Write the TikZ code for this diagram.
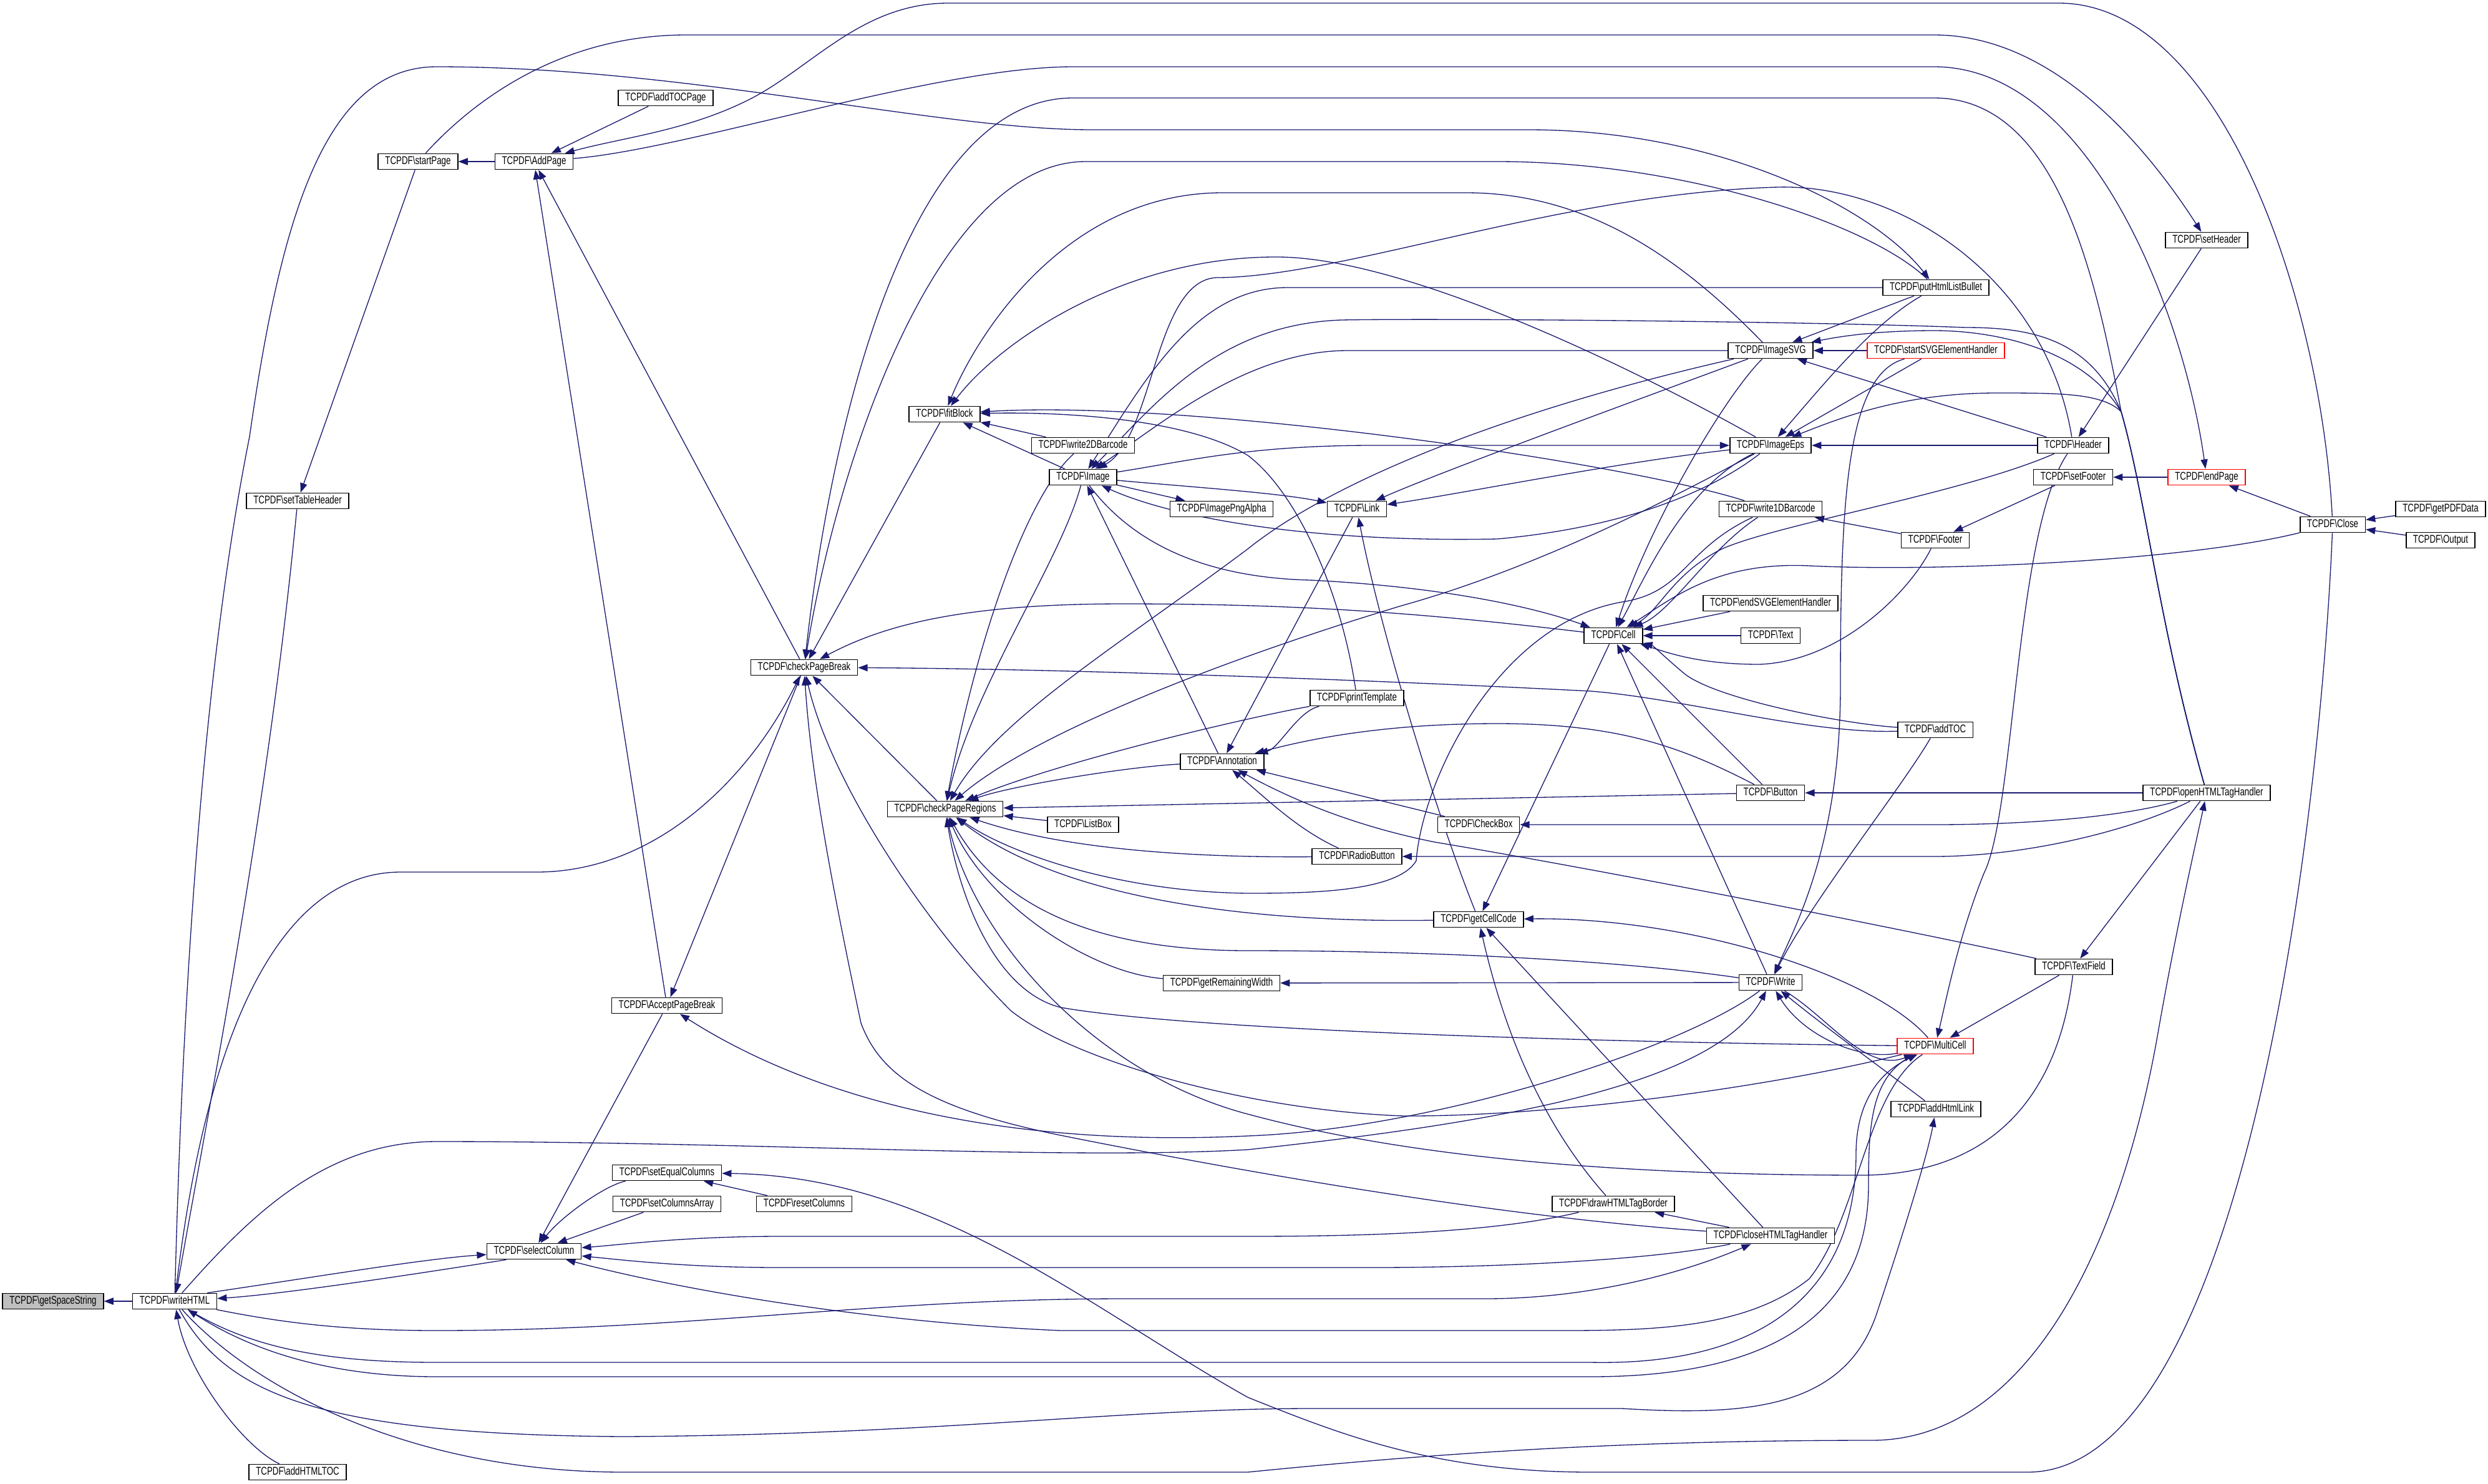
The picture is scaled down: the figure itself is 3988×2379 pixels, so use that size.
\documentclass[tikz,border=0pt]{standalone}
\usepackage{fontspec}
\usetikzlibrary{arrows.meta}
\newfontfamily\doxfont[FakeStretch=0.74]{Liberation Sans}
\newcommand{\fnfont}{\doxfont\fontsize{4.5pt}{5pt}\selectfont}
\newcommand{\tcpdf}[1]{TCPDF\textbackslash #1}
\definecolor{edgeblue}{HTML}{191970}
\definecolor{nodegray}{HTML}{BFBFBF}
\pgfdeclarelayer{edges}
\pgfsetlayers{edges,main}
\begin{document}
\begin{tikzpicture}[x=0.25pt,y=-0.25pt,
  fn/.style={draw=black,line width=0.4pt,fill=white,inner xsep=2.8pt,inner ysep=0pt,minimum height=6.3pt,text height=3.3pt,text depth=0.9pt,font=\fnfont},
  fnred/.style={fn,draw=red},
  fncur/.style={fn,fill=nodegray},
  call/.style={draw=edgeblue,line width=0.33pt,-{Triangle[length=3.8pt,width=2.8pt]}}]
\useasboundingbox (0,0) rectangle (3988,2379);

\node[fncur] (gss) at (85,2086) {\tcpdf{getSpaceString}};
\node[fn] (whtml) at (280,2086) {\tcpdf{writeHTML}};
\node[fn] (htmltoc) at (477,2360) {\tcpdf{addHTMLTOC}};
\node[fn] (selcol) at (856,2006) {\tcpdf{selectColumn}};
\node[fn] (tblhdr) at (477,803) {\tcpdf{setTableHeader}};
\node[fn] (startpg) at (670,259) {\tcpdf{startPage}};
\node[fn] (addpg) at (856,259) {\tcpdf{AddPage}};
\node[fn] (tocpg) at (1067,157) {\tcpdf{addTOCPage}};
\node[fn] (acptbrk) at (1069,1612) {\tcpdf{AcceptPageBreak}};
\node[fn] (eqcols) at (1069,1880) {\tcpdf{setEqualColumns}};
\node[fn] (colsarr) at (1069,1930) {\tcpdf{setColumnsArray}};
\node[fn] (rstcols) at (1289,1930) {\tcpdf{resetColumns}};
\node[fn] (chkbrk) at (1289,1070) {\tcpdf{checkPageBreak}};
\node[fn] (chkreg) at (1515,1297) {\tcpdf{checkPageRegions}};
\node[fn] (fitblk) at (1514,664) {\tcpdf{fitBlock}};
\node[fn] (wr2d) at (1736,714) {\tcpdf{write2DBarcode}};
\node[fn] (image) at (1736,765) {\tcpdf{Image}};
\node[fn] (listbox) at (1736,1322) {\tcpdf{ListBox}};
\node[fn] (pngalpha) at (1958,816) {\tcpdf{ImagePngAlpha}};
\node[fn] (annot) at (1959,1221) {\tcpdf{Annotation}};
\node[fn] (remwidth) at (1958,1576) {\tcpdf{getRemainingWidth}};
\node[fn] (link) at (2175,816) {\tcpdf{Link}};
\node[fn] (printtpl) at (2175,1119) {\tcpdf{printTemplate}};
\node[fn] (radio) at (2175,1373) {\tcpdf{RadioButton}};
\node[fn] (checkbox) at (2370,1322) {\tcpdf{CheckBox}};
\node[fn] (cellcode) at (2370,1474) {\tcpdf{getCellCode}};
\node[fn] (cell) at (2586,1019) {\tcpdf{Cell}};
\node[fn] (tagborder) at (2586,1930) {\tcpdf{drawHTMLTagBorder}};
\node[fn] (svg) at (2838,562) {\tcpdf{ImageSVG}};
\node[fn] (eps) at (2838,714) {\tcpdf{ImageEps}};
\node[fn] (wr1d) at (2838,816) {\tcpdf{write1DBarcode}};
\node[fn] (endsvg) at (2838,967) {\tcpdf{endSVGElementHandler}};
\node[fn] (txt) at (2838,1019) {\tcpdf{Text}};
\node[fn] (button) at (2838,1271) {\tcpdf{Button}};
\node[fn] (write) at (2838,1575) {\tcpdf{Write}};
\node[fn] (closetag) at (2838,1981) {\tcpdf{closeHTMLTagHandler}};
\node[fn] (bullet) at (3103,461) {\tcpdf{putHtmlListBullet}};
\node[fnred] (startsvg) at (3103,562) {\tcpdf{startSVGElementHandler}};
\node[fn] (footer) at (3102,866) {\tcpdf{Footer}};
\node[fn] (addtoc) at (3102,1170) {\tcpdf{addTOC}};
\node[fnred] (multicell) at (3102,1677) {\tcpdf{MultiCell}};
\node[fn] (htmllink) at (3103,1778) {\tcpdf{addHtmlLink}};
\node[fn] (header) at (3323,714) {\tcpdf{Header}};
\node[fn] (setfooter) at (3323,765) {\tcpdf{setFooter}};
\node[fn] (textfield) at (3324,1550) {\tcpdf{TextField}};
\node[fn] (setheader) at (3537,385) {\tcpdf{setHeader}};
\node[fnred] (endpage) at (3537,765) {\tcpdf{endPage}};
\node[fn] (opentag) at (3537,1271) {\tcpdf{openHTMLTagHandler}};
\node[fn] (close) at (3739,841) {\tcpdf{Close}};
\node[fn] (pdfdata) at (3912,816) {\tcpdf{getPDFData}};
\node[fn] (output) at (3912,866) {\tcpdf{Output}};

\begin{pgfonlayer}{edges}
\fill[white] (0,0) rectangle (3988,2379);
% left part
\draw[call] (whtml) -- (gss);
\draw[call] (htmltoc) .. controls (390,2320) and (300,2200) .. (whtml);
\draw[call] ([xshift=-4pt]whtml.north east) .. controls (520,2045) and (680,2018) .. (selcol);
\draw[call] ([xshift=8pt]selcol.south west) .. controls (650,2045) and (450,2075) .. (whtml);
\draw[call] (tblhdr) .. controls (430,1300) and (330,1800) .. (whtml);
\draw[call] (startpg) -- (tblhdr);
\draw[call] (addpg) -- (startpg);
\draw[call] (tocpg) -- (addpg);
\draw[call] (acptbrk) -- (addpg);
\draw[call] (chkbrk) -- (addpg);
\draw[call] (chkbrk) -- (acptbrk);
\draw[call] (fitblk) -- (chkbrk);
\draw[call] (chkreg) -- (chkbrk);
% along the top
\draw[call] (close) .. controls (3720,480) and (3560,5) .. (3300,5) -- (1520,5) .. controls (1380,5) and (1300,110) .. (1200,160) .. controls (1100,210) and (1000,220) .. (addpg);
\draw[call] (startpg) .. controls (760,160) and (900,56) .. (1100,56) -- (3100,56) .. controls (3300,56) and (3450,250) .. (setheader);
\draw[call] (addpg) .. controls (1100,240) and (1500,107) .. (1720,107) -- (3100,107) .. controls (3350,107) and (3500,500) .. (endpage);
\draw[call] (whtml) .. controls (300,1300) and (360,900) .. (400,700) .. controls (450,350) and (520,107) .. (700,107) .. controls (1100,107) and (1500,208) .. (1750,208) -- (2450,208) .. controls (2750,208) and (3000,330) .. (bullet);
\draw[call] (opentag) .. controls (3460,1000) and (3440,800) .. (3400,660) .. controls (3360,450) and (3300,157) .. (3100,157) -- (1720,157) .. controls (1450,157) and (1330,700) .. (chkbrk);
\draw[call] (bullet) .. controls (3000,360) and (2700,259) .. (2400,259) -- (1740,259) .. controls (1500,259) and (1340,750) .. (chkbrk);
\draw[call] (svg) .. controls (2700,420) and (2550,309) .. (2350,309) -- (1960,309) .. controls (1700,309) and (1560,550) .. (fitblk);
\draw[call] (eps) .. controls (2600,580) and (2250,414) .. (2050,412) .. controls (1800,410) and (1600,550) .. (fitblk);
% Image
\draw[call] (header) .. controls (3280,450) and (3050,295) .. (2850,300) .. controls (2500,310) and (2150,445) .. (1950,445) .. controls (1850,450) and (1850,700) .. (image);
\draw[call] (bullet) -- (2064,461) .. controls (1920,461) and (1840,600) .. (image);
\draw[call] (opentag) .. controls (3460,1000) and (3440,800) .. (3400,660) .. controls (3350,540) and (3250,525) .. (3150,525) .. controls (2900,515) and (2300,510) .. (2150,513) .. controls (1950,520) and (1850,650) .. (image);
\draw[call] (svg) -- (2160,562) .. controls (2000,562) and (1860,680) .. (image);
\draw[call] (annot) -- (image);
\draw[call] (eps) .. controls (2740,790) and (2600,846) .. (2400,864) .. controls (2100,870) and (1880,830) .. (image);
\draw[call] (image) .. controls (1900,740) and (2000,714) .. (2200,714) -- (eps);
% fitBlock
\draw[call] (wr1d) .. controls (2600,740) and (1900,640) .. (fitblk);
\draw[call] (printtpl) .. controls (2150,950) and (2080,790) .. (2000,730) .. controls (1900,670) and (1700,660) .. (fitblk);
\draw[call] (wr2d) -- (fitblk);
\draw[call] (image) -- (fitblk);
% checkPageBreak
\draw[call] (whtml) .. controls (330,1650) and (450,1400) .. (640,1398) -- (860,1398) .. controls (1050,1398) and (1200,1250) .. (chkbrk);
\draw[call] (cell) .. controls (2300,985) and (2100,968) .. (1800,968) .. controls (1550,968) and (1420,1000) .. (chkbrk);
\draw[call] (addtoc) .. controls (2900,1177) and (2700,1120) .. (2550,1108) .. controls (2200,1090) and (1700,1072) .. (chkbrk);
\draw[call] (closetag) .. controls (2400,1950) and (2000,1880) .. (1700,1820) .. controls (1480,1775) and (1410,1720) .. (1380,1640) .. controls (1340,1450) and (1300,1250) .. (chkbrk);
\draw[call] (multicell) .. controls (2850,1740) and (2500,1790) .. (2250,1789) .. controls (2000,1780) and (1720,1700) .. (1620,1620) .. controls (1480,1480) and (1330,1250) .. (chkbrk);
% checkPageRegions
\draw[call] (wr2d) .. controls (1640,800) and (1560,1050) .. (chkreg);
\draw[call] (image) .. controls (1700,900) and (1560,1100) .. (chkreg);
\draw[call] (svg) .. controls (2450,650) and (2150,760) .. (2000,880) .. controls (1800,1030) and (1600,1150) .. (chkreg);
\draw[call] (eps) .. controls (2750,760) and (2500,900) .. (2250,970) .. controls (1950,1060) and (1650,1180) .. (chkreg);
\draw[call] (printtpl) .. controls (2000,1150) and (1700,1220) .. (chkreg);
\draw[call] (annot) .. controls (1800,1230) and (1620,1260) .. (chkreg);
\draw[call] (button) -- (chkreg);
\draw[call] (listbox) -- (chkreg);
\draw[call] (radio) .. controls (1900,1375) and (1700,1360) .. (chkreg);
\draw[call] (wr1d) .. controls (2700,880) and (2700,950) .. (2600,965) .. controls (2400,1000) and (2280,1250) .. (2270,1380) .. controls (2240,1430) and (2100,1432) .. (2000,1432) .. controls (1800,1430) and (1620,1370) .. (chkreg);
\draw[call] (cellcode) .. controls (2000,1480) and (1700,1440) .. (chkreg);
\draw[call] (write) .. controls (2600,1540) and (2300,1524) .. (2000,1524) .. controls (1750,1524) and (1600,1450) .. (chkreg);
\draw[call] (remwidth) .. controls (1750,1560) and (1580,1450) .. (chkreg);
\draw[call] (multicell) .. controls (2500,1670) and (1900,1650) .. (1700,1615) .. controls (1600,1590) and (1540,1450) .. (chkreg);
\draw[call] (textfield) .. controls (3300,1750) and (3200,1880) .. (2990,1884) .. controls (2500,1884) and (2200,1840) .. (2000,1786) .. controls (1750,1720) and (1560,1500) .. (chkreg);
% Link and Annotation
\draw[call] (image) -- (pngalpha);
\draw[call] (image) .. controls (1900,780) and (2050,790) .. (link);
\draw[call] (svg) .. controls (2600,650) and (2300,760) .. (link);
\draw[call] (eps) .. controls (2600,740) and (2350,790) .. (link);
\draw[call] (cellcode) .. controls (2300,1300) and (2210,1000) .. (link);
\draw[call] (link) -- (annot);
\draw[call] (printtpl) .. controls (2080,1140) and (2050,1200) .. (annot);
\draw[call] (button) .. controls (2700,1200) and (2600,1160) .. (2400,1160) .. controls (2200,1160) and (2080,1190) .. (annot);
\draw[call] (checkbox) -- (annot);
\draw[call] (radio) .. controls (2080,1330) and (2030,1280) .. (annot);
\draw[call] (textfield) .. controls (3100,1500) and (2600,1400) .. (2300,1350) .. controls (2150,1320) and (2050,1270) .. (annot);
% Cell
\draw[call] (image) .. controls (1800,850) and (1900,925) .. (2100,930) .. controls (2300,940) and (2450,970) .. (cell);
\draw[call] (svg) .. controls (2760,640) and (2640,850) .. (cell);
\draw[call] (eps) .. controls (2700,780) and (2640,920) .. (cell);
\draw[call] (wr1d) .. controls (2740,880) and (2680,980) .. (cell);
\draw[call] (endsvg) -- (cell);
\draw[call] (txt) -- (cell);
\draw[call] (close) .. controls (3500,900) and (3100,917) .. (2900,907) .. controls (2750,900) and (2680,960) .. (cell);
\draw[call] (addtoc) .. controls (2950,1160) and (2750,1120) .. (2700,1080) .. controls (2670,1055) and (2650,1035) .. (cell);
\draw[call] (footer) .. controls (3060,950) and (2950,1060) .. (2820,1065) .. controls (2720,1065) and (2670,1045) .. (cell);
\draw[call] (button) -- (cell);
\draw[call] (write) -- (cell);
\draw[call] (header) .. controls (3150,790) and (2850,840) .. (2760,880) .. controls (2680,920) and (2660,980) .. (cell);
% getCellCode
\draw[call] (cell) -- (cellcode);
\draw[call] (tagborder) .. controls (2470,1800) and (2410,1650) .. (cellcode);
\draw[call] (closetag) -- (cellcode);
\draw[call] (multicell) .. controls (3000,1560) and (2700,1470) .. (cellcode);
% Write
\draw[call] (write) -- (remwidth);
\draw[call] (write) .. controls (2700,1680) and (2300,1810) .. (2000,1821) .. controls (1600,1840) and (1300,1760) .. (acptbrk);
\draw[call] (whtml) .. controls (400,1950) and (520,1830) .. (700,1830) .. controls (1200,1830) and (1700,1860) .. (2000,1843) .. controls (2400,1800) and (2750,1740) .. (write);
\draw[call] (startsvg) .. controls (2960,600) and (2950,800) .. (2950,1100) .. controls (2950,1350) and (2880,1480) .. (write);
\draw[call] (addtoc) .. controls (3050,1260) and (2900,1450) .. (write);
\draw[call] (multicell) .. controls (2980,1700) and (2890,1660) .. (write);
\draw[call] (write) .. controls (2930,1630) and (2990,1720) .. (multicell);
\draw[call] (htmllink) .. controls (3040,1730) and (2930,1650) .. (write);
% MultiCell
\draw[call] (header) .. controls (3230,850) and (3230,1300) .. (3180,1400) .. controls (3140,1500) and (3120,1600) .. (multicell);
\draw[call] (textfield) -- (multicell);
\draw[call] (whtml) .. controls (400,2160) and (520,2184) .. (700,2184) -- (2550,2184) .. controls (2850,2190) and (2975,2050) .. (2975,1850) .. controls (2975,1770) and (3010,1720) .. (multicell);
\draw[call] (multicell) .. controls (3000,1720) and (2995,1800) .. (2995,1900) .. controls (2995,2100) and (2850,2207) .. (2550,2207) -- (700,2207) .. controls (500,2207) and (380,2150) .. (whtml);
\draw[call] (whtml) .. controls (360,2230) and (500,2300) .. (1000,2303) .. controls (1500,2300) and (1800,2258) .. (2100,2258) -- (2600,2258) .. controls (2800,2270) and (2960,2260) .. (3010,2100) .. controls (3050,1980) and (3090,1850) .. (htmllink);
\draw[call] (whtml) .. controls (400,2220) and (650,2360) .. (1000,2360) -- (2000,2360) .. controls (2300,2330) and (2600,2309) .. (3000,2309) .. controls (3250,2309) and (3400,2000) .. (3460,1650) .. controls (3490,1480) and (3520,1350) .. (opentag);
% selectColumn
\draw[call] (acptbrk) -- (selcol);
\draw[call] (eqcols) .. controls (970,1900) and (900,1950) .. (selcol);
\draw[call] (colsarr) -- (selcol);
\draw[call] (rstcols) -- (eqcols);
\draw[call] (tagborder) .. controls (2400,1975) and (2200,1982) .. (2000,1982) -- (1250,1982) .. controls (1100,1982) and (1000,1995) .. (selcol);
\draw[call] (closetag) .. controls (2650,2020) and (2400,2032) .. (2200,2032) -- (1250,2032) .. controls (1100,2032) and (1000,2020) .. (selcol);
\draw[call] (multicell) .. controls (2990,1750) and (2980,1950) .. (2900,2050) .. controls (2800,2130) and (2650,2133) .. (2500,2133) -- (1700,2133) .. controls (1400,2120) and (1100,2070) .. (selcol);
\draw[call] (whtml) .. controls (450,2120) and (550,2133) .. (700,2133) .. controls (1100,2133) and (1400,2082) .. (1800,2082) -- (2380,2082) .. controls (2550,2082) and (2700,2040) .. (closetag);
\draw[call] (closetag) -- (tagborder);
\draw[call] (close) .. controls (3720,1300) and (3600,2360) .. (3250,2360) -- (2550,2360) .. controls (2300,2360) and (2150,2300) .. (2000,2240) .. controls (1750,2100) and (1500,1885) .. (eqcols);
% right hand side
\draw[call] (setheader) -- (header);
\draw[call] (endpage) -- (setfooter);
\draw[call] (setfooter) -- (footer);
\draw[call] (footer) -- (wr1d);
\draw[call] (close) -- (endpage);
\draw[call] (pdfdata) -- (close);
\draw[call] (output) -- (close);
\draw[call] (header) -- (eps);
\draw[call] (header) -- (svg);
\draw[call] (startsvg) -- (svg);
\draw[call] (startsvg) -- (eps);
\draw[call] (bullet) -- (svg);
\draw[call] (bullet) .. controls (3000,520) and (2920,620) .. (eps);
\draw[call] (opentag) .. controls (3460,1000) and (3440,800) .. (3400,660) .. controls (3370,630) and (3300,630) .. (3200,630) .. controls (3050,630) and (2950,670) .. (eps);
\draw[call] (opentag) .. controls (3460,1000) and (3440,800) .. (3400,660) .. controls (3340,560) and (3200,530) .. (3100,530) .. controls (3020,530) and (2960,537) .. (svg);
\draw[call] (opentag) -- (button);
\draw[call] (opentag) .. controls (3400,1310) and (3250,1322) .. (3100,1322) -- (checkbox);
\draw[call] (opentag) .. controls (3420,1330) and (3250,1373) .. (3100,1373) -- (radio);
\draw[call] (opentag) -- (textfield);
\end{pgfonlayer}
\end{tikzpicture}
\end{document}
